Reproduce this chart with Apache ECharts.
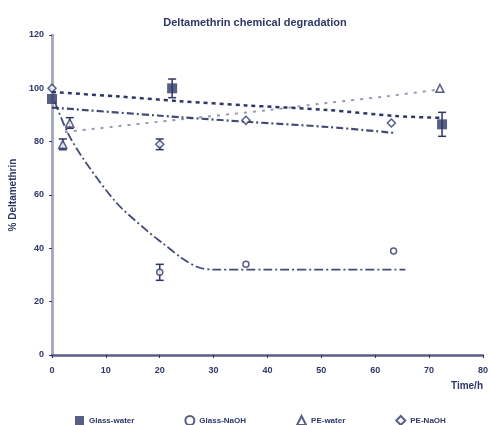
<!DOCTYPE html>
<html><head><meta charset="utf-8">
<script src="https://cdn.jsdelivr.net/npm/echarts@6/dist/echarts.min.js"></script>
<style>html,body{margin:0;padding:0;background:#fff}#c{width:491px;height:425px}</style>
</head><body><div id="c"></div>
<script>
// Measured points [time, %]
const glassWater = [[0, 96], [22.3, 100], [72.4, 86.5]];
const glassWaterErr = [0, 3.5, 4.5];
const glassNaOH = [[20, 31], [36, 34], [63.4, 39]];
const glassNaOHErr = [3, 0, 0];
const peWater = [[2, 79], [3.3, 87], [72, 100]];
const peWaterErr = [2, 2, 0];
const peNaOH = [[0, 100], [20, 79], [36, 88], [63, 87]];
const peNaOHErr = [0, 2, 0, 0];
// Trend lines
const fitGlassWater = [[0, 98.6], [12, 97], [23.6, 95.2], [36, 93.6], [51, 91.9], [64, 89.6], [72.4, 88.9]];
const fitGlassNaOH = [[0.5, 95], [3, 83], [6, 73], [12, 57], [18, 46], [20.5, 42], [24, 36.5], [27, 33], [30, 32], [40, 32], [65.6, 32]];
const fitPEWater = [[2.4, 83.6], [23.6, 88.3], [40, 91.8], [51, 94.5], [62, 97], [72, 99.6]];
const fitPENaOH = [[0, 92.8], [23.6, 89.2], [36.5, 87.4], [51.2, 85.5], [63.5, 83.3]];
const legendNames = ['Glass-water', 'Glass-NaOH', 'PE-water', 'PE-NaOH'];

const C = '#2e3766';
const chart = echarts.init(document.getElementById('c'));
function errSeries(pts, errs) {
  return {
    type: 'custom', silent: true, z: 3,
    data: pts.map((p, i) => [p[0], p[1], errs[i]]).filter(d => d[2] > 0),
    renderItem: (params, api) => {
      const x = api.value(0), y = api.value(1), e = api.value(2);
      const top = api.coord([x, y + e]), bot = api.coord([x, y - e]);
      const w = 4;
      const st = { stroke: C, lineWidth: 1.5 };
      return { type: 'group', children: [
        { type: 'line', shape: { x1: top[0], y1: top[1], x2: bot[0], y2: bot[1] }, style: st },
        { type: 'line', shape: { x1: top[0] - w, y1: top[1], x2: top[0] + w, y2: top[1] }, style: st },
        { type: 'line', shape: { x1: bot[0] - w, y1: bot[1], x2: bot[0] + w, y2: bot[1] }, style: st }
      ]};
    }
  };
}
function fitLine(data, dash, width, opacity) {
  return { type: 'line', data, smooth: 0.3, symbol: 'none', silent: true, z: 1,
    lineStyle: { color: C, width, type: dash, opacity } };
}
const txt = { color: C, fontFamily: 'Liberation Sans', fontWeight: 'bold' };
chart.setOption({
  animation: false,
  title: { text: 'Deltamethrin chemical degradation', left: 250, top: 12, textAlign: 'center',
    textStyle: Object.assign({ fontSize: 11 }, txt) },
  grid: { left: 52, right: 6, top: 35, bottom: 70 },
  legend: {
    data: legendNames, top: 410, left: 70, itemGap: 50, itemWidth: 9, itemHeight: 9,
    textStyle: Object.assign({ fontSize: 8 }, txt)
  },
  xAxis: {
    type: 'value', min: 0, max: 80, interval: 10,
    name: 'Time/h', nameLocation: 'end', nameGap: 0,
    nameTextStyle: Object.assign({ fontSize: 10, align: 'right', verticalAlign: 'top', padding: [26, 0, 0, 0] }, txt),
    axisLine: { lineStyle: { color: '#5a5f86', width: 2.5 } },
    axisTick: { show: true, length: 3, lineStyle: { color: C } },
    axisLabel: Object.assign({ fontSize: 9, margin: 11 }, txt),
    splitLine: { show: false }
  },
  yAxis: {
    type: 'value', min: 0, max: 120, interval: 20,
    name: '% Deltamethrin', nameLocation: 'middle', nameGap: 29,
    nameTextStyle: Object.assign({ fontSize: 10 }, txt),
    axisLine: { show: true, lineStyle: { color: '#a9abc2', width: 3 } },
    axisTick: { show: true, length: 3, lineStyle: { color: C } },
    axisLabel: Object.assign({ fontSize: 9, margin: 8 }, txt),
    splitLine: { show: false }
  },
  series: [
    fitLine(fitGlassWater, [4, 4], 2.5, 1),
    fitLine(fitGlassNaOH, [9, 3, 2, 3], 1.8, 0.9),
    fitLine(fitPEWater, [3, 6], 2, 0.5),
    fitLine(fitPENaOH, [7, 3, 2, 3], 2.2, 0.9),
    errSeries(glassWater, glassWaterErr),
    errSeries(glassNaOH, glassNaOHErr),
    errSeries(peWater, peWaterErr),
    errSeries(peNaOH, peNaOHErr),
    { name: 'Glass-water', type: 'scatter', data: glassWater, symbol: 'rect', symbolSize: 10, z: 5,
      itemStyle: { color: C } },
    { name: 'Glass-NaOH', type: 'scatter', data: glassNaOH, symbol: 'circle', symbolSize: 6, z: 5,
      itemStyle: { color: '#fff', borderColor: C, borderWidth: 1.5 } },
    { name: 'PE-water', type: 'scatter', data: peWater, symbol: 'triangle', symbolSize: 8, z: 5,
      itemStyle: { color: '#fff', borderColor: C, borderWidth: 1.5 } },
    { name: 'PE-NaOH', type: 'scatter', data: peNaOH, symbol: 'diamond', symbolSize: 8, z: 5,
      itemStyle: { color: '#fff', borderColor: C, borderWidth: 1.5 } }
  ]
});
</script></body></html>
